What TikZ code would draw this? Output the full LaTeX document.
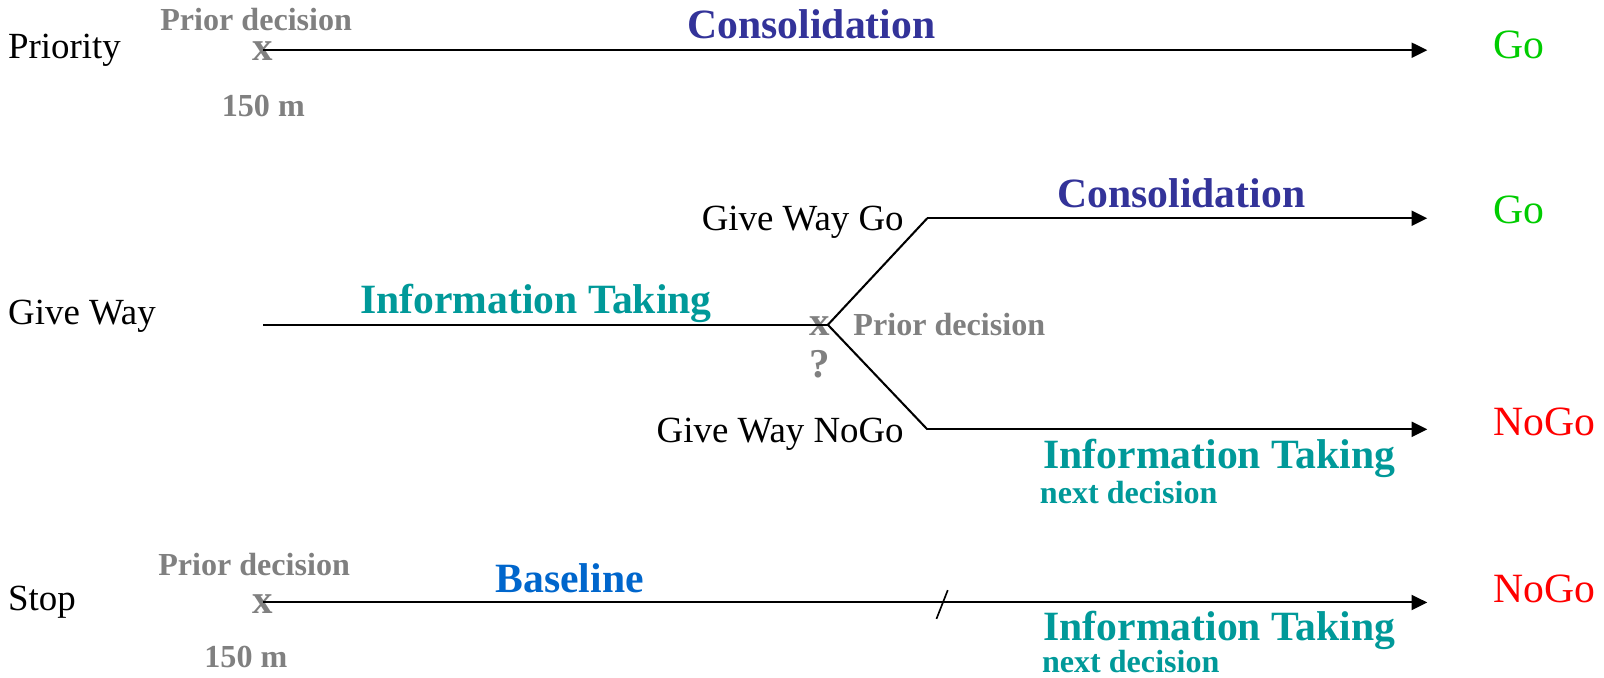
\documentclass[tikz,border=0pt]{standalone}
\usepackage{fontspec}
\setmainfont{Liberation Serif}
\usetikzlibrary{arrows.meta}
\definecolor{cons}{RGB}{51,51,153}
\definecolor{teal2}{RGB}{0,153,153}
\definecolor{base2}{RGB}{0,102,204}
\definecolor{gry}{RGB}{128,128,128}
\definecolor{gogreen}{RGB}{0,204,0}
\definecolor{nogored}{RGB}{255,0,0}
\tikzset{
  txt/.style={inner sep=0pt, outer sep=0pt},
  rowlbl/.style={txt, font=\fontsize{27}{30}\selectfont, anchor=base west},
  branch/.style={txt, font=\fontsize{27}{30}\selectfont, anchor=base east},
  phase/.style={txt, font=\fontsize{30.5}{34}\selectfont\bfseries, anchor=base},
  small/.style={txt, font=\fontsize{23.5}{26}\selectfont\bfseries},
  mark x/.style={txt, font=\fontsize{30}{34}\selectfont\bfseries, text=gry},
  outcome/.style={txt, font=\fontsize{30.5}{34}\selectfont, anchor=base west},
  conn/.style={line width=1.5pt, black},
  arr/.style={conn, -{Triangle[length=11.5pt, width=11pt]}},
}
\begin{document}
\begin{tikzpicture}[x=0.75pt, y=-0.75pt]
\useasboundingbox (0,0) rectangle (1565.5,661.7);
% ---------- Priority row
\node[rowlbl] (pri) at (8,57) {Priority};
\node[small, text=gry, anchor=base] (pd1) at (250,30) {Prior decision};
\node[mark x] (x1) at (256,50) {x};
\node[small, text=gry, anchor=base] (m1) at (257,114) {150 m};
\node[phase, text=cons] (c1) at (792,38) {Consolidation};
\node[outcome, text=gogreen] (go1) at (1458,57) {Go};
\coordinate (p1s) at (257,49);
\coordinate (p1e) at (1393,49);
\draw[arr] (p1s) -- (p1e);
% ---------- Give Way row
\node[rowlbl] (gw) at (8,317) {Give Way};
\node[phase, text=teal2] (it1) at (523,306) {Information Taking};
\node[mark x] (x2) at (800,318) {x};
\node[mark x, anchor=base] (q) at (800,368) {?};
\node[small, text=gry, anchor=base west] (pd2) at (833,327) {Prior decision};
\node[branch] (gwg) at (882,225) {Give Way Go};
\node[branch] (gwn) at (882,432) {Give Way NoGo};
\node[phase, text=cons] (c2) at (1153,203) {Consolidation};
\node[outcome, text=gogreen] (go2) at (1458,218) {Go};
\node[outcome, text=nogored] (ng1) at (1458,425) {NoGo};
\node[phase, text=teal2] (it2) at (1190,457) {Information Taking};
\node[small, text=teal2, anchor=base west] (nd1) at (1015,491) {next decision};
\coordinate (g0) at (257,317);
\coordinate (gj) at (808,317);
\coordinate (gu) at (905,213);
\coordinate (gd) at (905,419);
\coordinate (gue) at (1393,213);
\coordinate (gde) at (1393,419);
\draw[conn] (g0) -- (gj);
\draw[conn] (gj) -- (gu);
\draw[conn] (gj) -- (gd);
\draw[arr] (gu) -- (gue);
\draw[arr] (gd) -- (gde);
% ---------- Stop row
\node[rowlbl] (st) at (8,596) {Stop};
\node[small, text=gry, anchor=base] (pd3) at (248,562) {Prior decision};
\node[mark x] (x3) at (256,590) {x};
\node[small, text=gry, anchor=base] (m3) at (240,651) {150 m};
\node[phase, text=base2] (bl) at (556,578) {Baseline};
\node[outcome, text=nogored] (ng2) at (1458,588) {NoGo};
\node[phase, text=teal2] (it3) at (1190,625) {Information Taking};
\node[small, text=teal2, anchor=base west] (nd2) at (1017,656) {next decision};
\coordinate (s0) at (257,588);
\coordinate (se) at (1393,588);
\draw[arr] (s0) -- (se);
\coordinate (sl1) at (914,604);
\coordinate (sl2) at (925,576);
\draw[line width=1.2pt] (sl1) -- (sl2);
\end{tikzpicture}
\end{document}
